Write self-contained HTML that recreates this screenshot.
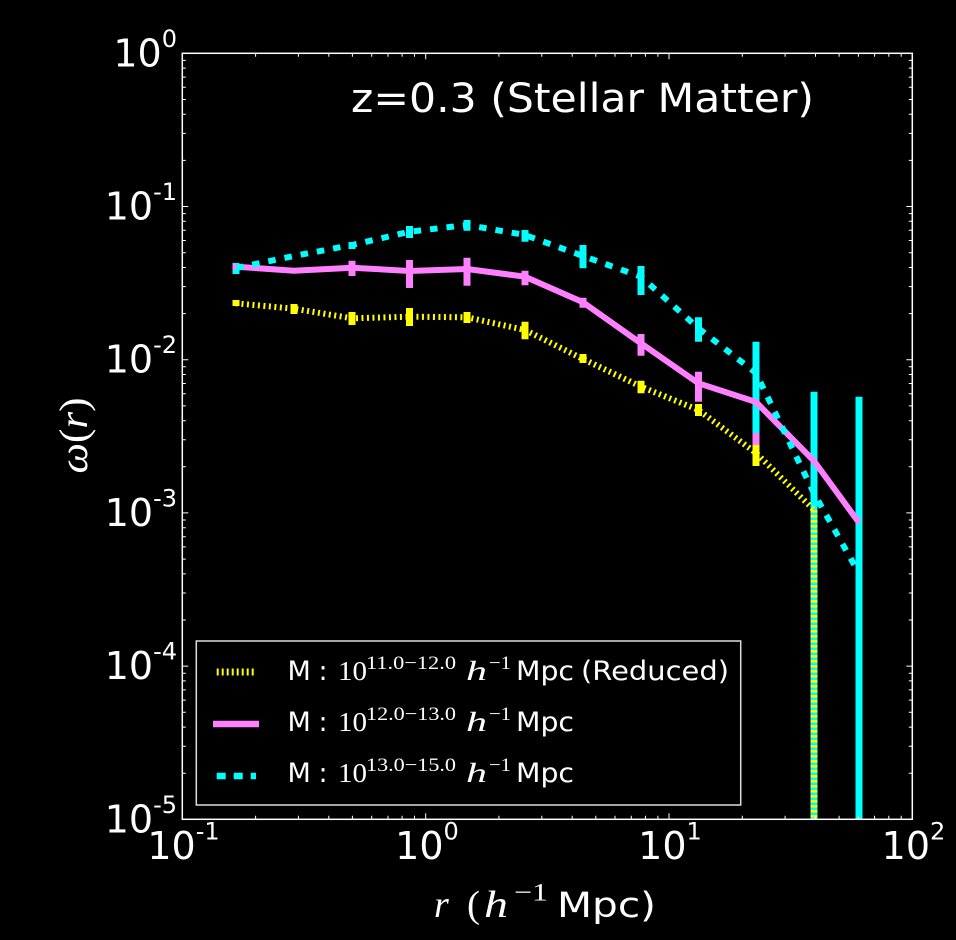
<!DOCTYPE html>
<html>
<head>
<meta charset="utf-8">
<style>
html,body{margin:0;padding:0;background:#000;}
svg{display:block;}
text{fill:#fff;}
</style>
</head>
<body>
<svg width="956" height="940" viewBox="0 0 956 940" xmlns="http://www.w3.org/2000/svg">
<rect x="0" y="0" width="956" height="940" fill="#000"/>
<defs>
<clipPath id="ax"><rect x="182.3" y="53.3" width="730" height="766"/></clipPath>
</defs>

<!-- data -->
<g clip-path="url(#ax)" fill="none">
  <!-- cyan error bars -->
  <g stroke="#00ffff" stroke-width="7">
    <path d="M236 263V274M352 242V249M409.5 226V238M467 220V230.7M525 230V241.7M583 245V268.3M641 266V295M698.5 317.3V341.7M756 341.7V433M814 391.7V830M859 396.7V830"/>
  </g>
  <!-- pink error bars -->
  <g stroke="#ff80ff" stroke-width="7">
    <path d="M236 264V270M352 260.7V276M409.5 260V288M467 257.7V285.7M525 270.7V285.3M583 297.7V307.7M641 334V355.7M698.5 371.7V401.7M756 433V445"/>
  </g>
  <!-- yellow error bars -->
  <g stroke="#ffff00" stroke-width="7">
    <path d="M236 300V306M294 304V314M352 312V325M409.5 308V326M467 312V323M525 321.7V339.3M583 354V363M641 380.7V393.3M698.5 404V416M756 445V466"/>
    <path d="M814 510V830" stroke-dasharray="2.5 2.5"/>
  </g>
  <!-- yellow dotted line -->
  <polyline stroke="#ffff00" stroke-width="6" stroke-dasharray="2 3.5" points="236,303.3 294,308.7 352,318.3 409.5,316.7 467,317.3 525,330 583,359 641,386.7 698.5,410 756,453 814,510"/>
  <!-- pink solid line -->
  <polyline stroke="#ff80ff" stroke-width="6" stroke-linejoin="round" points="236,266.7 294,270.7 352,267.7 409.5,271 467,269 525,276.7 583,302.3 641,343.3 698.5,383.3 756,402 814,461 859,522.7"/>
  <!-- cyan dashed line -->
  <polyline stroke="#00ffff" stroke-width="6" stroke-dasharray="7.5 9" points="236,268 294,256 352,245 409.5,231.7 467,225 525,235 583,256 641,276.7 698.5,328.3 756,373 814,493.3 859,573.3"/>
</g>

<!-- axes frame -->
<rect x="182.3" y="53.3" width="730" height="766" fill="none" stroke="#fff" stroke-width="1.5"/>

<!-- ticks -->
<g stroke="#fff" stroke-width="1" fill="none">
  <!-- y minor -->
  <path d="M182.3 773.2h3.5M182.3 746.2h3.5M182.3 727.1h3.5M182.3 712.3h3.5M182.3 700.1h3.5M182.3 689.9h3.5M182.3 680.9h3.5M182.3 673.2h3.5
  M182.3 620h3.5M182.3 593h3.5M182.3 573.9h3.5M182.3 559.1h3.5M182.3 546.9h3.5M182.3 536.7h3.5M182.3 527.7h3.5M182.3 520h3.5
  M182.3 466.8h3.5M182.3 439.8h3.5M182.3 420.7h3.5M182.3 405.9h3.5M182.3 393.7h3.5M182.3 383.5h3.5M182.3 374.5h3.5M182.3 366.8h3.5
  M182.3 313.6h3.5M182.3 286.6h3.5M182.3 267.5h3.5M182.3 252.7h3.5M182.3 240.5h3.5M182.3 230.3h3.5M182.3 221.3h3.5M182.3 213.6h3.5
  M182.3 160.4h3.5M182.3 133.4h3.5M182.3 114.3h3.5M182.3 99.5h3.5M182.3 87.3h3.5M182.3 77.1h3.5M182.3 68.1h3.5M182.3 60.4h3.5
  M912.3 773.2h-3.5M912.3 746.2h-3.5M912.3 727.1h-3.5M912.3 712.3h-3.5M912.3 700.1h-3.5M912.3 689.9h-3.5M912.3 680.9h-3.5M912.3 673.2h-3.5
  M912.3 620h-3.5M912.3 593h-3.5M912.3 573.9h-3.5M912.3 559.1h-3.5M912.3 546.9h-3.5M912.3 536.7h-3.5M912.3 527.7h-3.5M912.3 520h-3.5
  M912.3 466.8h-3.5M912.3 439.8h-3.5M912.3 420.7h-3.5M912.3 405.9h-3.5M912.3 393.7h-3.5M912.3 383.5h-3.5M912.3 374.5h-3.5M912.3 366.8h-3.5
  M912.3 313.6h-3.5M912.3 286.6h-3.5M912.3 267.5h-3.5M912.3 252.7h-3.5M912.3 240.5h-3.5M912.3 230.3h-3.5M912.3 221.3h-3.5M912.3 213.6h-3.5
  M912.3 160.4h-3.5M912.3 133.4h-3.5M912.3 114.3h-3.5M912.3 99.5h-3.5M912.3 87.3h-3.5M912.3 77.1h-3.5M912.3 68.1h-3.5M912.3 60.4h-3.5"/>
  <!-- y major -->
  <path d="M182.3 666.1h6M182.3 512.9h6M182.3 359.7h6M182.3 206.5h6M912.3 666.1h-6M912.3 512.9h-6M912.3 359.7h-6M912.3 206.5h-6"/>
  <!-- x minor -->
  <path d="M255.6 819.3v-3.5M298.4 819.3v-3.5M328.8 819.3v-3.5M352.4 819.3v-3.5M371.7 819.3v-3.5M388 819.3v-3.5M402.1 819.3v-3.5M414.5 819.3v-3.5
  M498.9 819.3v-3.5M541.8 819.3v-3.5M572.2 819.3v-3.5M595.8 819.3v-3.5M615 819.3v-3.5M631.3 819.3v-3.5M645.4 819.3v-3.5M657.9 819.3v-3.5
  M742.3 819.3v-3.5M785.1 819.3v-3.5M815.5 819.3v-3.5M839.1 819.3v-3.5M858.4 819.3v-3.5M874.6 819.3v-3.5M888.8 819.3v-3.5M901.2 819.3v-3.5
  M255.6 53.3v3.5M298.4 53.3v3.5M328.8 53.3v3.5M352.4 53.3v3.5M371.7 53.3v3.5M388 53.3v3.5M402.1 53.3v3.5M414.5 53.3v3.5
  M498.9 53.3v3.5M541.8 53.3v3.5M572.2 53.3v3.5M595.8 53.3v3.5M615 53.3v3.5M631.3 53.3v3.5M645.4 53.3v3.5M657.9 53.3v3.5
  M742.3 53.3v3.5M785.1 53.3v3.5M815.5 53.3v3.5M839.1 53.3v3.5M858.4 53.3v3.5M874.6 53.3v3.5M888.8 53.3v3.5M901.2 53.3v3.5"/>
  <!-- x major -->
  <path d="M425.7 819.3v-6M669 819.3v-6M425.7 53.3v6M669 53.3v6"/>
</g>

<!-- y tick labels -->
<g font-family="DejaVu Sans, Liberation Sans, sans-serif" font-size="38" text-anchor="end">
  <text x="177" y="66.3">10<tspan font-size="24" dy="-19.5">0</tspan></text>
  <text x="177" y="219.5">10<tspan font-size="24" dy="-19.5">-1</tspan></text>
  <text x="177" y="372.7">10<tspan font-size="24" dy="-19.5">-2</tspan></text>
  <text x="177" y="525.9">10<tspan font-size="24" dy="-19.5">-3</tspan></text>
  <text x="177" y="679.1">10<tspan font-size="24" dy="-19.5">-4</tspan></text>
  <text x="177" y="832.3">10<tspan font-size="24" dy="-19.5">-5</tspan></text>
</g>

<!-- x tick labels -->
<g font-family="DejaVu Sans, Liberation Sans, sans-serif" font-size="38" text-anchor="middle">
  <text x="183.5" y="859">10<tspan font-size="24" dy="-19.5">-1</tspan></text>
  <text x="427" y="859">10<tspan font-size="24" dy="-19.5">0</tspan></text>
  <text x="670" y="859">10<tspan font-size="24" dy="-19.5">1</tspan></text>
  <text x="913.5" y="859">10<tspan font-size="24" dy="-19.5">2</tspan></text>
</g>

<!-- title -->
<text x="351" y="112" font-family="DejaVu Sans, Liberation Sans, sans-serif" font-size="40" textLength="463" lengthAdjust="spacingAndGlyphs">z=0.3 (Stellar Matter)</text>

<!-- x axis label -->
<g font-size="38">
  <text x="434" y="917" font-family="Liberation Serif, DejaVu Serif, serif" font-style="italic">r</text>
  <text x="467" y="917" font-family="Liberation Serif, DejaVu Serif, serif" textLength="13" lengthAdjust="spacingAndGlyphs">(</text>
  <text x="484" y="917" font-family="Liberation Serif, DejaVu Serif, serif" font-style="italic" textLength="24" lengthAdjust="spacingAndGlyphs">h</text>
  <text x="514" y="900.5" font-family="Liberation Serif, DejaVu Serif, serif" font-size="25" textLength="34" lengthAdjust="spacingAndGlyphs">−1</text>
  <text x="557" y="917" font-family="DejaVu Sans, Liberation Sans, sans-serif" font-size="35" textLength="99" lengthAdjust="spacingAndGlyphs">Mpc)</text>
</g>

<!-- y axis label -->
<text transform="translate(87,435.5) rotate(-90)" text-anchor="middle" font-family="Liberation Serif, DejaVu Serif, serif" font-size="40" textLength="76" lengthAdjust="spacingAndGlyphs"><tspan font-style="italic">ω</tspan>(<tspan font-style="italic">r</tspan>)</text>

<!-- legend -->
<rect x="196.3" y="641" width="544.4" height="164" fill="#000" stroke="#ddd" stroke-width="1.5"/>
<line x1="216.7" y1="672" x2="254" y2="672" stroke="#ffff00" stroke-width="7" stroke-dasharray="2 3"/>
<line x1="213" y1="724" x2="259" y2="724" stroke="#ff80ff" stroke-width="6.5"/>
<line x1="216.7" y1="776" x2="256" y2="776" stroke="#00ffff" stroke-width="6.5" stroke-dasharray="9 8"/>

<g font-size="27">
  <!-- row 1 -->
  <text x="287.5" y="680" font-family="DejaVu Sans, Liberation Sans, sans-serif">M</text>
  <text x="318.5" y="680" font-family="DejaVu Sans, Liberation Sans, sans-serif">:</text>
  <text x="338" y="680" font-family="Liberation Serif, DejaVu Serif, serif" textLength="29" lengthAdjust="spacingAndGlyphs">10</text>
  <text x="366" y="669" font-family="Liberation Serif, DejaVu Serif, serif" font-size="19" textLength="90" lengthAdjust="spacingAndGlyphs">11.0−12.0</text>
  <text x="466" y="680" font-family="Liberation Serif, DejaVu Serif, serif" font-style="italic" textLength="21" lengthAdjust="spacingAndGlyphs">h</text>
  <text x="489" y="669" font-family="Liberation Serif, DejaVu Serif, serif" font-size="19" textLength="22" lengthAdjust="spacingAndGlyphs">−1</text>
  <text x="516" y="680" font-family="DejaVu Sans, Liberation Sans, sans-serif" textLength="58" lengthAdjust="spacingAndGlyphs">Mpc</text>
  <text x="581" y="680" font-family="DejaVu Sans, Liberation Sans, sans-serif" textLength="148" lengthAdjust="spacingAndGlyphs">(Reduced)</text>
  <!-- row 2 -->
  <text x="287.5" y="731" font-family="DejaVu Sans, Liberation Sans, sans-serif">M</text>
  <text x="318.5" y="731" font-family="DejaVu Sans, Liberation Sans, sans-serif">:</text>
  <text x="338" y="731" font-family="Liberation Serif, DejaVu Serif, serif" textLength="29" lengthAdjust="spacingAndGlyphs">10</text>
  <text x="366" y="720" font-family="Liberation Serif, DejaVu Serif, serif" font-size="19" textLength="90" lengthAdjust="spacingAndGlyphs">12.0−13.0</text>
  <text x="466" y="731" font-family="Liberation Serif, DejaVu Serif, serif" font-style="italic" textLength="21" lengthAdjust="spacingAndGlyphs">h</text>
  <text x="489" y="720" font-family="Liberation Serif, DejaVu Serif, serif" font-size="19" textLength="22" lengthAdjust="spacingAndGlyphs">−1</text>
  <text x="516" y="731" font-family="DejaVu Sans, Liberation Sans, sans-serif" textLength="58" lengthAdjust="spacingAndGlyphs">Mpc</text>
  <!-- row 3 -->
  <text x="287.5" y="782" font-family="DejaVu Sans, Liberation Sans, sans-serif">M</text>
  <text x="318.5" y="782" font-family="DejaVu Sans, Liberation Sans, sans-serif">:</text>
  <text x="338" y="782" font-family="Liberation Serif, DejaVu Serif, serif" textLength="29" lengthAdjust="spacingAndGlyphs">10</text>
  <text x="366" y="771" font-family="Liberation Serif, DejaVu Serif, serif" font-size="19" textLength="90" lengthAdjust="spacingAndGlyphs">13.0−15.0</text>
  <text x="466" y="782" font-family="Liberation Serif, DejaVu Serif, serif" font-style="italic" textLength="21" lengthAdjust="spacingAndGlyphs">h</text>
  <text x="489" y="771" font-family="Liberation Serif, DejaVu Serif, serif" font-size="19" textLength="22" lengthAdjust="spacingAndGlyphs">−1</text>
  <text x="516" y="782" font-family="DejaVu Sans, Liberation Sans, sans-serif" textLength="58" lengthAdjust="spacingAndGlyphs">Mpc</text>
</g>
</svg>
</body>
</html>
